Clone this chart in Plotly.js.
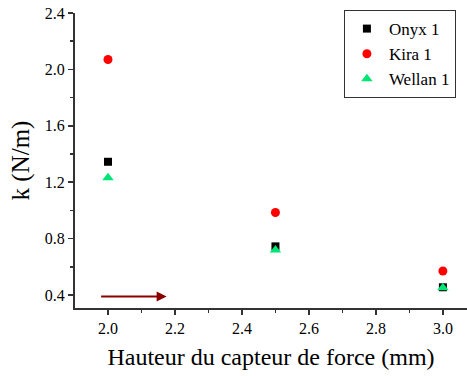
<!DOCTYPE html>
<html><head><meta charset="utf-8">
<script src="https://cdn.plot.ly/plotly-3.0.1.min.js"></script>
<style>html,body{margin:0;padding:0;background:#fff}#c{width:467px;height:376px}</style>
</head><body><div id="c"></div>
<script>
const heights = [2.0, 2.5, 3.0];
const onyx = [1.345, 0.745, 0.455];
const kira = [2.07, 0.985, 0.57];
const wellan = [1.232, 0.72, 0.452];
const seriesNames = ["Onyx 1", "Kira 1", "Wellan 1"];
const xTicks = [2.0, 2.2, 2.4, 2.6, 2.8, 3.0];
const yTicks = [0.4, 0.8, 1.2, 1.6, 2.0, 2.4];
const arrowFrom = [1.975, 0.39];
const arrowTo = [2.175, 0.39];

const fam = "Liberation Serif";
const traces = [
  {x: heights, y: onyx, name: seriesNames[0], mode: "markers", type: "scatter", cliponaxis: false,
   marker: {symbol: "square", size: 8, color: "#000"}},
  {x: heights, y: kira, name: seriesNames[1], mode: "markers", type: "scatter", cliponaxis: false,
   marker: {symbol: "circle", size: 9, color: "#ff0000"}},
  {x: heights, y: wellan, name: seriesNames[2], mode: "markers", type: "scatter", cliponaxis: false,
   marker: {symbol: "triangle-up", size: 10, color: "#00e676"}}
];
const layout = {
  width: 467, height: 376,
  margin: {l: 75, r: 0, t: 13, b: 68},
  paper_bgcolor: "#fff", plot_bgcolor: "#fff",
  font: {family: fam, color: "#000"},
  showlegend: true,
  legend: {x: 0.686, y: 1.01, xanchor: "left", yanchor: "top",
    bordercolor: "#333", borderwidth: 1, bgcolor: "#fff",
    font: {family: fam, size: 17, color: "#000"}, tracegroupgap: 0, itemwidth: 34},
  xaxis: {range: [1.9015, 3.072], tickvals: xTicks, ticktext: xTicks.map(v => v.toFixed(1)),
    showgrid: false, zeroline: false, showline: true, linecolor: "#333", linewidth: 2,
    ticks: "outside", ticklen: 5, tickwidth: 1.5, tickcolor: "#333",
    minor: {dtick: 0.1, tick0: 1.9, ticks: "outside", ticklen: 3, tickwidth: 1.5, tickcolor: "#333"},
    tickfont: {family: fam, size: 16, color: "#000"},
    title: {text: "Hauteur du capteur de force (mm)", font: {family: fam, size: 24, color: "#000"}, standoff: 12}},
  yaxis: {range: [0.308, 2.4], tickvals: yTicks, ticktext: yTicks.map(v => v.toFixed(1)),
    showgrid: false, zeroline: false, showline: true, linecolor: "#333", linewidth: 2,
    ticks: "outside", ticklen: 5, tickwidth: 1.5, tickcolor: "#333",
    minor: {dtick: 0.2, tick0: 0.2, ticks: "outside", ticklen: 3, tickwidth: 1.5, tickcolor: "#333"},
    tickfont: {family: fam, size: 16, color: "#000"},
    title: {text: "k (N/m)", font: {family: fam, size: 25, color: "#000"}, standoff: 8}},
  annotations: [{x: arrowTo[0], y: arrowTo[1], ax: arrowFrom[0], ay: arrowFrom[1],
    xref: "x", yref: "y", axref: "x", ayref: "y", showarrow: true, text: "",
    arrowhead: 2, arrowsize: 1, arrowwidth: 2, arrowcolor: "#8b0000"}]
};
Plotly.newPlot("c", traces, layout, {displayModeBar: false, staticPlot: true});
</script></body></html>
